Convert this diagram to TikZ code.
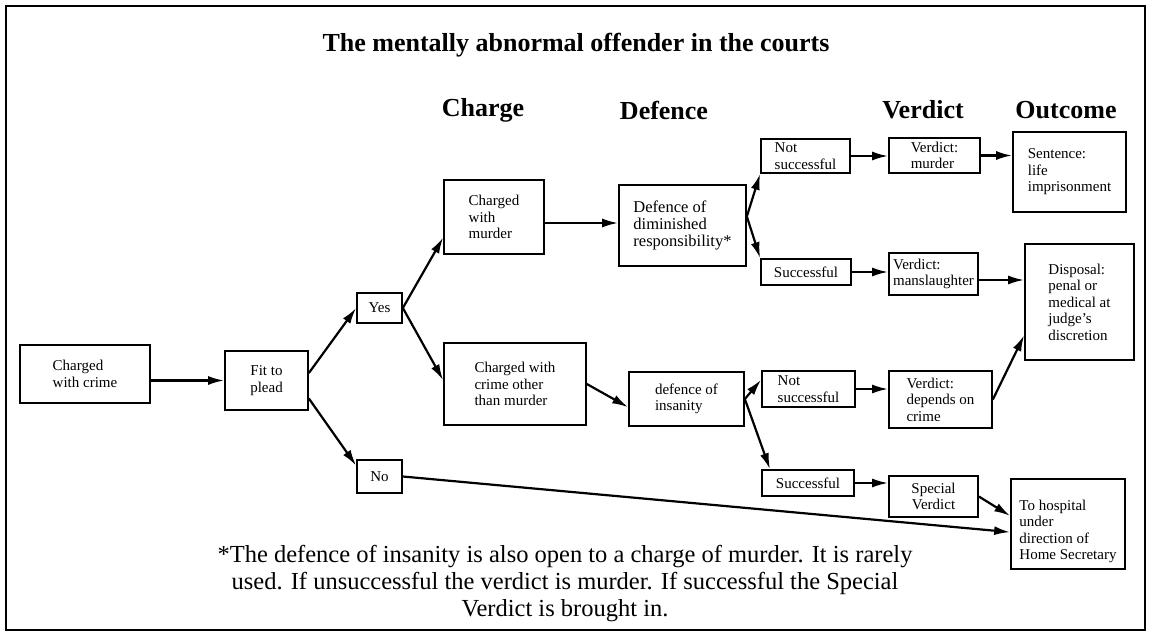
\documentclass[tikz,border=0pt]{standalone}
\usepackage{fontspec}
\setmainfont{Liberation Serif}
\usetikzlibrary{arrows.meta}

\begin{document}
\begin{tikzpicture}[x=1pt,y=-1pt,
	box/.style={draw, line width=1.7pt, align=left, inner sep=2pt,
		font=\fontsize{15}{16.5}\selectfont},
	arr/.style={line width=2.2pt, -{Latex[length=16pt,width=9pt]}},
	head/.style={font=\fontsize{26}{30}\selectfont\bfseries}]
	\useasboundingbox (0,0) rectangle (1152,634);
	\draw[line width=2pt] (6,6) rectangle (1145,630);

	% title and column heads
	\node[head] (title) at (576,45) {The mentally abnormal offender in the courts};
	\node[head] (hcharge) at (483,110) {Charge};
	\node[head] (hdefence) at (664,110) {Defence};
	\node[head] (hverdict) at (923,110) {Verdict};
	\node[head] (houtcome) at (1066,110) {Outcome};

	% boxes
	\node[box, minimum width=130, minimum height=58] (crime) at (85,374) {Charged\\with crime};
	\node[box, minimum width=83, minimum height=59, align=center] (fit) at (266.5,380.5) {Fit to\\plead};
	\node[box, minimum width=45, minimum height=30] (yes) at (379.5,308) {Yes};
	\node[box, minimum width=45, minimum height=33] (no) at (379.5,476.5) {No};
	\node[box, minimum width=100, minimum height=74] (cmurder) at (494,217) {Charged\\with\\murder};
	\node[box, minimum width=142, minimum height=82] (cother) at (515,384) {Charged with\\crime other\\than murder};
	\node[box, minimum width=127, minimum height=81, font=\fontsize{16.5}{17}\selectfont] (dimin) at (682.5,225.5) {Defence of\\diminished\\responsibility*};
	\node[box, minimum width=115, minimum height=54] (insan) at (686.5,399) {defence of\\insanity};
	\node[box, minimum width=89, minimum height=34] (nsA) at (805.5,156) {Not\\successful};
	\node[box, minimum width=90, minimum height=26] (sA) at (806,272) {Successful};
	\node[box, minimum width=93, minimum height=36] (nsB) at (808.5,389) {Not\\successful};
	\node[box, minimum width=92, minimum height=26] (sB) at (808,483) {Successful};
	\node[box, minimum width=91, minimum height=35] (vmurder) at (934.5,155.5) {Verdict:\\murder};
	\node[box, minimum width=89, minimum height=42] (vmansl) at (933.5,274) {Verdict:\\manslaughter};
	\node[box, minimum width=103, minimum height=57] (vdepends) at (940.5,399.5) {Verdict:\\depends on\\crime};
	\node[box, minimum width=89, minimum height=41, align=center] (special) at (933.5,496.5) {Special\\Verdict};
	\node[box, minimum width=113, minimum height=80] (sentence) at (1069.5,172) {Sentence:\\life\\imprisonment};
	\node[box, minimum width=109, minimum height=116] (disposal) at (1079.5,302) {Disposal:\\penal or\\medical at\\judge's\\discretion};
	\node[box, minimum width=114, minimum height=90] (hospital) at (1068,524) {\rule{0pt}{25pt}To hospital\\under\\direction of\\Home Secretary};

	% connectors
	\draw[arr] (crime.east |- fit.west) -- (fit.west);
	\draw[arr] (fit.10) -- (yes.west);
	\draw[arr] (fit.-23) -- (no.155);
	\draw[arr] (yes.east) -- (cmurder.-158);
	\draw[arr] (yes.east) -- (cother.177);
	\draw[arr] ([yshift=-6pt]cmurder.east) -- ([yshift=-6pt]cmurder.east -| dimin.west);
	\draw[arr] (cother.east) -- (insan.-172);
	\draw[arr] (dimin.8) -- (nsA.south west);
	\draw[arr] (dimin.8) -- (sA.north west);
	\draw[arr] (insan.east) -- (nsB.169);
	\draw[arr] (insan.east) -- (sB.160);
	\draw[arr] (nsA.east) -- (nsA.east -| vmurder.west);
	\draw[arr] (vmurder.east) -- (vmurder.east -| sentence.west);
	\draw[arr] (sA.east) -- (sA.east -| vmansl.west);
	\draw[arr] ([yshift=-6pt]vmansl.east) -- ([yshift=-6pt]vmansl.east -| disposal.west);
	\draw[arr] (nsB.east) -- (nsB.east -| vdepends.west);
	\draw[arr] (vdepends.east) -- (disposal.-149);
	\draw[arr] (sB.east) -- (sB.east -| special.west);
	\draw[arr] (special.east) -- (hospital.172);
	\draw[arr] (no.east) -- (hospital.-172);

	% footnote
	\node[font=\fontsize{24.5}{27}\selectfont, align=center] (note) at (565,584)
		{*The defence of insanity is also open to a charge of murder. It is rarely\\
		used. If unsuccessful the verdict is murder. If successful the Special\\
		Verdict is brought in.};
\end{tikzpicture}
\end{document}
